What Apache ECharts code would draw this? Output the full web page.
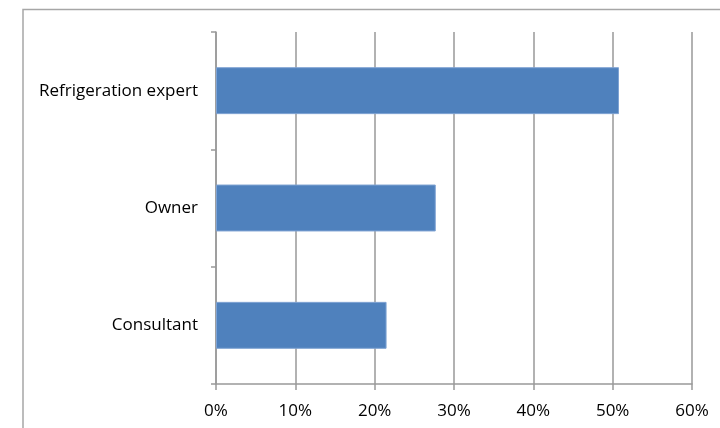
<!DOCTYPE html>
<html><head><meta charset="utf-8">
<script src="https://cdn.jsdelivr.net/npm/echarts@6/dist/echarts.min.js"></script>
<style>html,body{margin:0;padding:0;background:#fff;}#c{width:720px;height:428px;}</style>
</head><body><div id="c"></div>
<script>
const categories = ['Consultant', 'Owner', 'Refrigeration expert'];
const values = [21.5, 27.7, 50.8];
const tickLabels = ['0%', '10%', '20%', '30%', '40%', '50%', '60%'];

const chart = echarts.init(document.getElementById('c'), null, {renderer: 'canvas'});
const font = '"Open Sans", "Liberation Sans", sans-serif';
chart.setOption({
  animation: false,
  backgroundColor: '#fff',
  graphic: [{
    type: 'rect', shape: {x: 23, y: 9.5, width: 720, height: 440},
    style: {fill: 'none', stroke: '#a6a6a6', lineWidth: 1.5}, silent: true
  }],
  grid: {left: 216, right: 28, top: 32, bottom: 44, containLabel: false},
  xAxis: {
    type: 'value', min: 0, max: 60, interval: 10,
    axisLine: {show: true, lineStyle: {color: '#999', width: 1.5}},
    axisTick: {show: true, length: 6, lineStyle: {color: '#999', width: 1.5}},
    splitLine: {show: true, lineStyle: {color: '#999', width: 1.5}},
    axisLabel: {
      margin: 19, color: '#000', fontSize: 17, fontFamily: font,
      formatter: function (v) { return tickLabels[Math.round(v / 10)]; }
    }
  },
  yAxis: {
    type: 'category', data: categories,
    axisLine: {show: true, lineStyle: {color: '#999', width: 1.5}},
    axisTick: {show: true, length: 5, lineStyle: {color: '#999', width: 1.5}},
    axisLabel: {margin: 18, color: '#000', fontSize: 17, fontFamily: font}
  },
  series: [{
    type: 'bar', data: values, barCategoryGap: '60%',
    itemStyle: {color: '#4F81BD', borderColor: '#7fa3d3', borderWidth: 1}
  }]
});
</script></body></html>
